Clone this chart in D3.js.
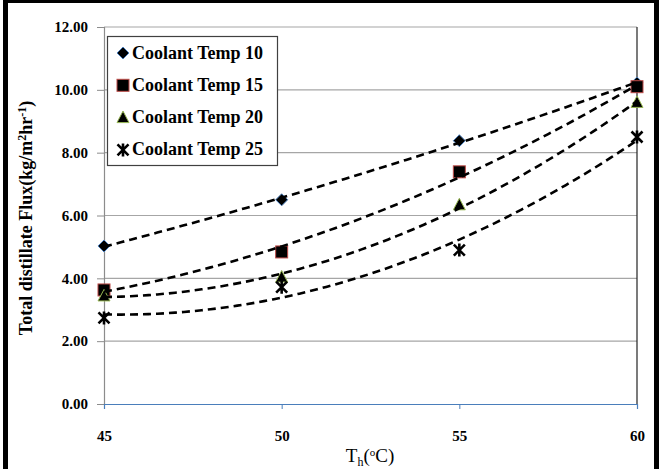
<!DOCTYPE html>
<html><head><meta charset="utf-8">
<script src="https://cdn.jsdelivr.net/npm/d3@7"></script>
<style>html,body{margin:0;padding:0;background:#fff;}svg{display:block;}
text{font-family:"Liberation Serif","Times New Roman","DejaVu Serif",serif;}</style>
</head><body>
<svg id="c" width="659" height="469"></svg>
<script>
const temps = [45, 50, 55, 60];
const seriesNames = ["Coolant Temp 10", "Coolant Temp 15", "Coolant Temp 20", "Coolant Temp 25"];
const coolant10 = [5.03, 6.50, 8.38, 10.22];
const coolant15 = [3.63, 4.84, 7.39, 10.10];
const coolant20 = [3.44, 4.04, 6.34, 9.60];
const coolant25 = [2.74, 3.72, 4.90, 8.50];
const yTicks = [0, 2, 4, 6, 8, 10, 12];
const xTicks = [45, 50, 55, 60];

const FONT = '"Liberation Serif","Times New Roman","DejaVu Serif",serif';
const svg = d3.select("#c");
const L = 104, R = 637, T = 27, B = 404;
const x = d3.scaleLinear().domain([45, 60]).range([L, R]);
const y = d3.scaleLinear().domain([0, 12]).range([B, T]);

// outer frame
svg.append("rect").attr("x", 0).attr("y", 0).attr("width", 659).attr("height", 469).attr("fill", "#fff");
svg.append("rect").attr("x", 3).attr("y", 0).attr("width", 5).attr("height", 469).attr("fill", "#000");
svg.append("rect").attr("x", 3).attr("y", 0).attr("width", 656).attr("height", 3).attr("fill", "#000");
svg.append("rect").attr("x", 654).attr("y", 0).attr("width", 5).attr("height", 469).attr("fill", "#000");

// gridlines
svg.append("g").selectAll("line").data(yTicks.filter(d => d > 0)).join("line")
  .attr("x1", L).attr("x2", R).attr("y1", d => y(d)).attr("y2", d => y(d))
  .attr("stroke", "#a6a6a6").attr("stroke-width", 1.2);

// y axis
const yAxis = svg.append("g").attr("transform", `translate(${L},0)`)
  .call(d3.axisLeft(y).tickValues(yTicks).tickFormat(d3.format(".2f")).tickSize(7).tickPadding(9));
yAxis.select(".domain").attr("stroke", "#8c8c8c").attr("stroke-width", 1.2);
yAxis.selectAll(".tick line").attr("stroke", "#8c8c8c");
yAxis.selectAll("text").attr("font-family", FONT).attr("font-weight", "bold")
  .attr("font-size", 15).attr("fill", "#000");

// right edge
svg.append("line").attr("x1", R).attr("x2", R).attr("y1", T).attr("y2", B)
  .attr("stroke", "#222").attr("stroke-width", 1.2);

// x axis
const xAxis = svg.append("g").attr("transform", `translate(0,${B})`)
  .call(d3.axisBottom(x).tickValues(xTicks).tickFormat(d3.format("d")).tickSize(5).tickPadding(21));
xAxis.select(".domain").attr("stroke", "#4a7ebb").attr("stroke-width", 1.2);
xAxis.selectAll(".tick line").attr("stroke", "#4a7ebb");
xAxis.selectAll("text").attr("font-family", FONT).attr("font-weight", "bold")
  .attr("font-size", 15).attr("fill", "#000");

// axis titles
const xt = svg.append("text").attr("x", 370).attr("y", 462).attr("text-anchor", "middle")
  .attr("font-family", FONT).attr("font-size", 19).attr("fill", "#000");
xt.append("tspan").text("T");
xt.append("tspan").attr("font-size", 12).attr("dy", 4).text("h");
xt.append("tspan").attr("dy", -4).text("(");
xt.append("tspan").attr("font-size", 11).attr("dy", -6).text("o");
xt.append("tspan").attr("dy", 6).text("C)");

const yt = svg.append("text").attr("transform", "translate(32,218) rotate(-90)").attr("text-anchor", "middle")
  .attr("font-family", FONT).attr("font-weight", "bold").attr("font-size", 18).attr("fill", "#000");
yt.append("tspan").text("Total distillate  Flux(kg/m");
yt.append("tspan").attr("font-size", 12).attr("dy", -6).text("2");
yt.append("tspan").attr("dy", 6).text("hr");
yt.append("tspan").attr("font-size", 12).attr("dy", -6).text("-1");
yt.append("tspan").attr("dy", 6).text(")");

// quadratic least-squares trendline
function quadFit(xs, ys) {
  let s = [0,0,0,0,0], t = [0,0,0];
  xs.forEach((xv, i) => {
    for (let k = 0; k < 5; k++) s[k] += Math.pow(xv, k);
    for (let k = 0; k < 3; k++) t[k] += Math.pow(xv, k) * ys[i];
  });
  const M = [[s[0],s[1],s[2],t[0]],[s[1],s[2],s[3],t[1]],[s[2],s[3],s[4],t[2]]];
  for (let i = 0; i < 3; i++) {
    let p = i;
    for (let r = i+1; r < 3; r++) if (Math.abs(M[r][i]) > Math.abs(M[p][i])) p = r;
    [M[i], M[p]] = [M[p], M[i]];
    for (let r = 0; r < 3; r++) if (r !== i) {
      const f = M[r][i] / M[i][i];
      for (let c = i; c < 4; c++) M[r][c] -= f * M[i][c];
    }
  }
  const c = [M[0][3]/M[0][0], M[1][3]/M[1][1], M[2][3]/M[2][2]];
  return xv => c[0] + c[1]*xv + c[2]*xv*xv;
}

const allSeries = [coolant10, coolant15, coolant20, coolant25];
const markerTypes = ["diamond", "square", "triangle", "x"];
const strokeCols = ["#4a7ebb", "#be4b48", "#98b954", "#000"];

function drawMarker(g, type, cx, cy) {
  if (type === "diamond") {
    g.append("path").attr("d", `M${cx},${cy-6}L${cx+6},${cy}L${cx},${cy+6}L${cx-6},${cy}Z`)
      .attr("fill", "#000").attr("stroke", strokeCols[0]).attr("stroke-width", 1);
  } else if (type === "square") {
    g.append("rect").attr("x", cx-6).attr("y", cy-6).attr("width", 12).attr("height", 12)
      .attr("fill", "#000").attr("stroke", strokeCols[1]).attr("stroke-width", 1);
  } else if (type === "triangle") {
    g.append("path").attr("d", `M${cx},${cy-6.5}L${cx+6},${cy+5}L${cx-6},${cy+5}Z`)
      .attr("fill", "#000").attr("stroke", strokeCols[2]).attr("stroke-width", 1);
  } else {
    g.append("path").attr("d", `M${cx-5.5},${cy-5.5}L${cx+5.5},${cy+5.5}M${cx+5.5},${cy-5.5}L${cx-5.5},${cy+5.5}M${cx},${cy-6.5}L${cx},${cy+6.5}`)
      .attr("fill", "none").attr("stroke", "#000").attr("stroke-width", 2.6);
  }
}

const plot = svg.append("g");
allSeries.forEach((vals, si) => {
  const g = plot.append("g");
  vals.forEach((v, i) => drawMarker(g, markerTypes[si], x(temps[i]), y(v)));
});

const line = d3.line().x(d => x(d[0])).y(d => y(d[1])).curve(d3.curveLinear);
allSeries.forEach(vals => {
  const f = quadFit(temps, vals);
  const pts = d3.range(0, 61).map(i => { const xv = 45 + i * 0.25; return [xv, f(xv)]; });
  plot.append("path").attr("d", line(pts)).attr("fill", "none")
    .attr("stroke", "#000").attr("stroke-width", 2.6).attr("stroke-dasharray", "8,5");
});

// legend
const lg = svg.append("g");
lg.append("rect").attr("x", 107.5).attr("y", 36.5).attr("width", 170).attr("height", 129)
  .attr("fill", "#fff").attr("stroke", "#404040").attr("stroke-width", 1.2);
seriesNames.forEach((name, i) => {
  const cy = 53 + i * 32.3;
  drawMarker(lg, markerTypes[i], 123, cy);
  lg.append("text").attr("x", 132).attr("y", cy + 5.5).attr("font-family", FONT)
    .attr("font-weight", "bold").attr("font-size", 18).attr("fill", "#000").text(name);
});
</script>
</body></html>
